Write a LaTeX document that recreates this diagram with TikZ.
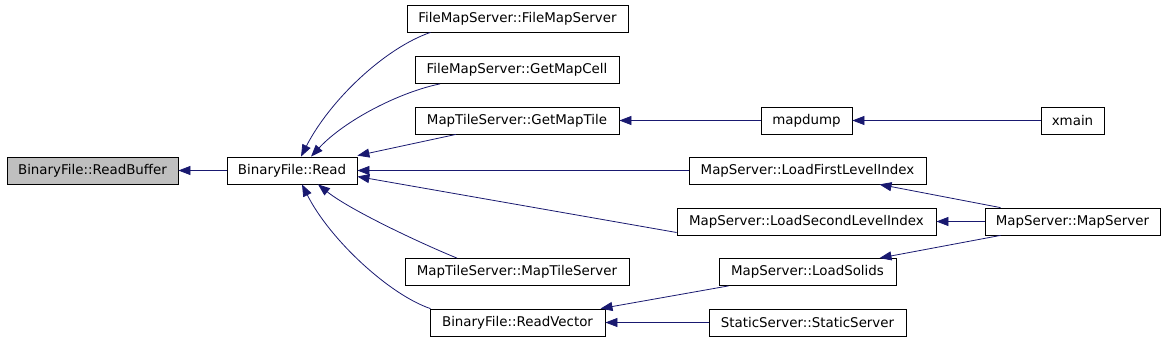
\documentclass[tikz,border=0pt]{standalone}
\usepackage{fontspec}
\setmainfont{DejaVu Sans}
\usetikzlibrary{arrows.meta}
\definecolor{midnight}{RGB}{25,25,112}

\begin{document}
\begin{tikzpicture}[
  x=1pt, y=-1pt,
  fn/.style={draw, line width=0.8pt, minimum height=27pt, inner xsep=0pt, inner ysep=0pt, font=\fontsize{13.4}{15}\selectfont},
  edge/.style={{Triangle[length=12pt, width=9pt]}-, draw=midnight, line width=0.8pt}
]
\useasboundingbox (0,0) rectangle (1165,341);

% functions
\node[fn, fill=gray!50, minimum width=171] (readbuffer) at (92.5,170.5) {BinaryFile::ReadBuffer};
\node[fn, minimum width=130] (read) at (292,170.5) {BinaryFile::Read};
\node[fn, minimum width=221] (fmsctor) at (517.5,18.5) {FileMapServer::FileMapServer};
\node[fn, minimum width=204] (getmapcell) at (517,70) {FileMapServer::GetMapCell};
\node[fn, minimum width=204] (getmaptile) at (517,120.5) {MapTileServer::GetMapTile};
\node[fn, minimum width=224] (mtsctor) at (517,272) {MapTileServer::MapTileServer};
\node[fn, minimum width=175] (readvector) at (517.5,322.5) {BinaryFile::ReadVector};
\node[fn, minimum width=91] (mapdump) at (806.5,120.5) {mapdump};
\node[fn, minimum width=63] (xmain) at (1072.5,120.5) {xmain};
\node[fn, minimum width=237] (loadfirst) at (807.5,170.5) {MapServer::LoadFirstLevelIndex};
\node[fn, minimum width=259] (loadsecond) at (806.5,221.5) {MapServer::LoadSecondLevelIndex};
\node[fn, minimum width=177] (loadsolids) at (807.5,272) {MapServer::LoadSolids};
\node[fn, minimum width=197] (staticctor) at (807.5,322.5) {StaticServer::StaticServer};
\node[fn, minimum width=175] (msctor) at (1072.5,221.5) {MapServer::MapServer};

% calls
\draw[edge] (readbuffer) -- (read);
\draw[edge] ([xshift=9]read.north) .. controls (330,100) and (385,48) .. ([xshift=-87]fmsctor.south);
\draw[edge] ([xshift=19]read.north) .. controls (345,120) and (400,92) .. ([xshift=-77]getmapcell.south);
\draw[edge] ([yshift=1]read.north east) -- ([xshift=-61]getmaptile.south);
\draw[edge] (read.east) -- (loadfirst.west);
\draw[edge] ([yshift=-6]read.east) -- ([yshift=-11]loadsecond.west);
\draw[edge] ([xshift=26]read.south) .. controls (350,210) and (420,243) .. ([xshift=-60]mtsctor.north);
\draw[edge] ([xshift=10]read.south) .. controls (330,240) and (390,295) .. ([xshift=-87]readvector.north);
\draw[edge] (getmaptile) -- (mapdump);
\draw[edge] (mapdump) -- (xmain);
\draw[edge] ([xshift=72]loadfirst.south) -- ([xshift=-72]msctor.north);
\draw[edge] (loadsecond) -- (msctor);
\draw[edge] ([xshift=72]loadsolids.north) -- ([xshift=-72]msctor.south);
\draw[edge] ([xshift=83]readvector.north) -- ([xshift=-79]loadsolids.south);
\draw[edge] (readvector) -- (staticctor);
\end{tikzpicture}
\end{document}
